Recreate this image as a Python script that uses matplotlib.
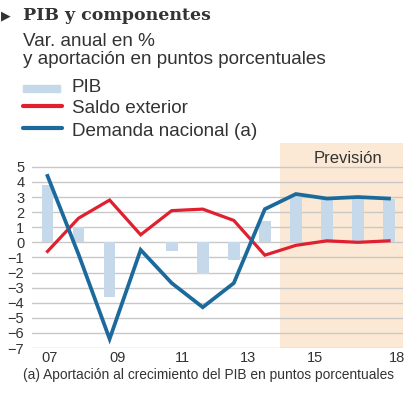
import matplotlib
matplotlib.use('Agg')
import matplotlib.pyplot as plt
import matplotlib.patches as mpatches
from matplotlib.lines import Line2D

# Datos (2007-2018, desde 2015 prevision)
anios = [7, 8, 9, 10, 11, 12, 13, 14, 15, 16, 17, 18]
pib = [3.8, 1.0, -3.6, 0.0, -0.6, -2.1, -1.2, 1.4, 3.1, 2.9, 3.0, 2.9]
saldo_exterior = [-0.6, 1.6, 2.8, 0.5, 2.1, 2.2, 1.45, -0.85, -0.2, 0.1, 0.0, 0.1]
demanda_nacional = [4.4, -0.8, -6.4, -0.5, -2.7, -4.3, -2.7, 2.2, 3.2, 2.9, 3.0, 2.9]
etiquetas_x = ['07', '09', '11', '13', '15', '18']
pos_etiquetas_x = [7.05, 9.24, 11.33, 13.46, 15.61, 18.26]
inicio_prevision = 14.49

W, H = 414, 396
fig = plt.figure(figsize=(W / 100, H / 100), dpi=100)

sans = ['Liberation Sans', 'DejaVu Sans']
gris_txt = '#333333'
azul = '#1c6a9c'
rojo = '#e01f2f'
azul_claro = '#c6d9ea'


def fy(y):
    return 1 - y / H


# Cabecera
fig.text(1 / W, fy(19), '\u25B6', fontsize=9, color='#333333', family=['DejaVu Sans'])
fig.text(23 / W, fy(20), 'PIB y componentes', fontsize=12.5, fontweight='bold',
         family=['DejaVu Serif'], color=gris_txt)
fig.text(23 / W, fy(45.5), 'Var. anual en %', fontsize=13.6, family=sans, color=gris_txt)
fig.text(23 / W, fy(64), 'y aportación en puntos porcentuales', fontsize=13.6, family=sans,
         color=gris_txt)

# Leyenda manual
fig.patches.append(mpatches.Rectangle((23 / W, fy(92)), 37 / W, 7 / H, transform=fig.transFigure,
                                      color=azul_claro, figure=fig))
fig.text(72 / W, fy(92.5), 'PIB', fontsize=13.6, family=sans, color=gris_txt)
fig.lines.append(Line2D([23 / W, 62 / W], [fy(106), fy(106)], transform=fig.transFigure,
                        color=rojo, lw=3, solid_capstyle='round', figure=fig))
fig.text(72 / W, fy(113), 'Saldo exterior', fontsize=13.6, family=sans, color=gris_txt)
fig.lines.append(Line2D([23 / W, 62 / W], [fy(128), fy(128)], transform=fig.transFigure,
                        color=azul, lw=3, solid_capstyle='round', figure=fig))
fig.text(72 / W, fy(135.5), 'Demanda nacional (a)', fontsize=13.6, family=sans, color=gris_txt)

# Grafico
ax = fig.add_axes([32 / W, fy(348), (403 - 32) / W, (348 - 143) / H])
ax.axvspan(inicio_prevision, 18.45, color='#fbe9d5', lw=0, zorder=0)
ax.set_yticks(range(-7, 6))
ax.grid(axis='y', color='#c8c8c8', lw=1, zorder=1)
ax.set_axisbelow(True)
ax.bar(anios, pib, width=0.375, color=azul_claro, zorder=2)
ax.plot(anios, saldo_exterior, color=rojo, lw=2.3, zorder=3, solid_joinstyle='miter')
ax.plot(anios, demanda_nacional, color=azul, lw=2.7, zorder=4, solid_joinstyle='miter')
ax.text(16.68, 5.25, 'Previsión', ha='center', va='baseline', fontsize=12, family=sans,
        color=gris_txt)

ax.set_xlim(6.5, 18.45)
ax.set_ylim(-7, 6.58)
ax.set_xticks(pos_etiquetas_x)
ax.set_xticklabels(etiquetas_x)
for s in ax.spines.values():
    s.set_visible(False)
ax.tick_params(length=0, labelsize=10.5, labelcolor=gris_txt)
ax.tick_params(axis='y', pad=5.5)
ax.tick_params(axis='x', pad=2.5)
for lab in ax.get_xticklabels() + ax.get_yticklabels():
    lab.set_family(sans)

fig.text(23 / W, fy(379), '(a) Aportación al crecimiento del PIB en puntos porcentuales',
         fontsize=9.9, family=sans, color=gris_txt)

fig.savefig('out.png', dpi=100)
